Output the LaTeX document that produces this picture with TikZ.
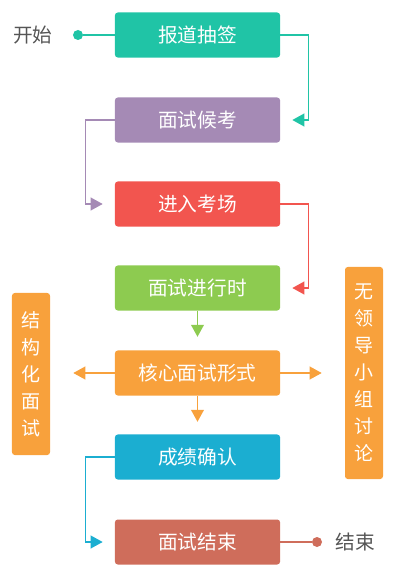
\documentclass[tikz,border=0pt]{standalone}
\usepackage{fontspec}
\newfontfamily\cjk{Noto Sans CJK SC}
\usepackage{tikz}
\usetikzlibrary{arrows.meta, calc, positioning}

\definecolor{ctea}{HTML}{20C4A6}
\definecolor{cpur}{HTML}{A58AB5}
\definecolor{cred}{HTML}{F2554F}
\definecolor{cgrn}{HTML}{8DCB50}
\definecolor{corg}{HTML}{F8A13C}
\definecolor{cblu}{HTML}{1BAED1}
\definecolor{cbrn}{HTML}{CF6D5B}
\definecolor{cgry}{HTML}{555555}

\tikzset{
  stepbox/.style={fill=#1, rounded corners=2pt, minimum width=4.125cm, minimum height=1.125cm,
    text=white, font=\cjk\fontsize{14}{16}\selectfont},
  sidebox/.style={fill=corg, rounded corners=2pt, minimum width=0.95cm, align=center,
    text=white, font=\cjk\fontsize{13.5}{19.2}\selectfont},
  flow/.style={draw=#1, line width=1pt, -{Triangle[length=0.3cm,width=0.32cm]}},
  plain/.style={draw=#1, line width=1pt},
  dot/.style={circle, fill=#1, inner sep=0pt, minimum size=0.25cm},
  side/.style={text=cgry, font=\cjk\fontsize{14}{16}\selectfont}
}

\begin{document}
\begin{tikzpicture}[x=0.025cm, y=-0.025cm]
\useasboundingbox (0,0) rectangle (400,584);

\node[stepbox=ctea] (baodao) at (197.5,35) {报道抽签};
\node[stepbox=cpur] (houkao) at (197.5,120) {面试候考};
\node[stepbox=cred] (jinru) at (197.5,204) {进入考场};
\node[stepbox=cgrn] (jinxing) at (197.5,288) {面试进行时};
\node[stepbox=corg] (hexin) at (197.5,373) {核心面试形式};
\node[stepbox=cblu] (chengji) at (197.5,457) {成绩确认};
\node[stepbox=cbrn] (jieshu) at (197.5,542) {面试结束};

\node[sidebox, minimum height=4.05cm] (jiegou) at (31,374) {结\\构\\化\\面\\试};
\node[sidebox, minimum height=5.3cm] (wulingdao) at (364,373) {无\\领\\导\\小\\组\\讨\\论};

% start and end
\node[side] (kaishi) at (33,35) {开始};
\node[dot=ctea] (sdot) at (78,35) {};
\draw[plain=ctea] (sdot) -- (baodao);
\node[dot=cbrn] (edot) at (317,542) {};
\node[side] (jieshutxt) at (355,542) {结束};
\draw[plain=cbrn] (jieshu) -- (edot);

% arrow ends
\coordinate (a1) at ($(houkao.east)+(12,0)$);
\coordinate (a2) at ($(jinru.west)+(-12,0)$);
\coordinate (a3) at ($(jinxing.east)+(12,0)$);
\coordinate (a4) at ($(jinxing.south)+(0,26)$);
\coordinate (a5) at ($(hexin.south)+(0,26)$);
\coordinate (a6) at ($(jieshu.west)+(-12,0)$);
\coordinate (al) at ($(jiegou.east|-hexin)+(23,0)$);
\coordinate (ar) at ($(wulingdao.west|-hexin)+(-23,0)$);

\draw[flow=ctea] (baodao.east) -- ++(28,0) |- (a1);
\draw[flow=cpur] (houkao.west) -- ++(-29,0) |- (a2);
\draw[flow=cred] (jinru.east) -- ++(28,0) |- (a3);
\draw[flow=cgrn] (jinxing.south) -- (a4);
\draw[flow=corg] (hexin.south) -- (a5);
\draw[flow=corg] (hexin.west) -- (al);
\draw[flow=corg] (hexin.east) -- (ar);
\draw[flow=cblu] (chengji.west) -- ++(-29,0) |- (a6);
\end{tikzpicture}
\end{document}
